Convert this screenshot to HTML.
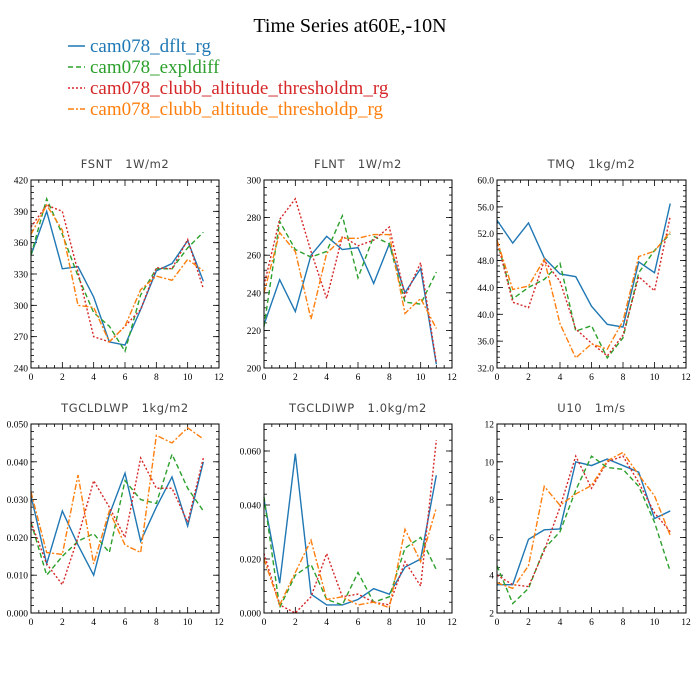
<!DOCTYPE html>
<html><head><meta charset="utf-8"><style>
body{margin:0;background:#fff;width:700px;height:700px;overflow:hidden}
svg{display:block}
text{white-space:pre}
</style></head><body>
<svg id="c" width="700" height="700" xmlns="http://www.w3.org/2000/svg">
<text x="350" y="32" text-anchor="middle" font-family="Liberation Serif, serif" font-size="20">Time Series at60E,-10N</text>
<g font-family="Liberation Serif, serif" font-size="19">
<g><line x1="68" y1="46" x2="85" y2="46" stroke="#1f77b4" stroke-width="1.5"/><text x="90" y="52" fill="#1f77b4">cam078_dflt_rg</text></g>
<g><line x1="68" y1="67" x2="85" y2="67" stroke="#2ca02c" stroke-width="1.5" stroke-dasharray="5,3"/><text x="90" y="73" fill="#2ca02c">cam078_expldiff</text></g>
<g><line x1="68" y1="88" x2="85" y2="88" stroke="#d62728" stroke-width="1.5" stroke-dasharray="2,2"/><text x="90" y="94" fill="#d62728">cam078_clubb_altitude_thresholdm_rg</text></g>
<g><line x1="68" y1="109" x2="85" y2="109" stroke="#ff7f0e" stroke-width="1.5" stroke-dasharray="6,2,2,2"/><text x="90" y="115" fill="#ff7f0e">cam078_clubb_altitude_thresholdp_rg</text></g>
</g>
</svg>
<script>
const months=[0,1,2,3,4,5,6,7,8,9,10,11];
const seriesNames=["dflt","expldiff","thresholdm","thresholdp"];
const fsntDflt=[348,390,335,337,308,265,262,296,333,340,362,323];
const fsntExpl=[348,402,368,328,293,280,256,310,335,335,355,370];
const fsntM=[375,396,390,332,270,265,280,296,336,335,363,316];
const fsntP=[368,396,372,300,298,265,280,315,328,324,344,333];
const flntDflt=[223,247,230,260,270,263,264,245,266,240,253,202];
const flntExpl=[222,278,263,259,262,281,248,270,266,235,234,251];
const flntM=[244,279,290,262,237,270,265,268,275,238,256,203];
const flntP=[240,272,262,226,261,269,269,271,271,229,237,221];
const tmqDflt=[54.0,50.6,53.6,48.4,46.0,45.6,41.2,38.5,38.1,47.8,46.2,56.5];
const tmqExpl=[51,42.3,44,45.2,47.6,37.5,38.3,33.5,36.5,46.2,49.5,52];
const tmqM=[51,41.8,41,48,44.9,37.8,35.7,33.8,36.9,45.6,43.5,54.6];
const tmqP=[51,43.7,44.2,48.2,38.6,33.5,35.6,34.8,39,48.6,49.4,52.3];
const lwpDflt=[.031,.013,.027,.018,.010,.026,.037,.019,.028,.036,.023,.040];
const lwpExpl=[.024,.010,.015,.019,.021,.016,.035,.030,.029,.042,.033,.027];
const lwpM=[.024,.013,.0075,.020,.035,.028,.020,.041,.033,.033,.024,.041];
const lwpP=[.032,.016,.0155,.0365,.013,.027,.018,.016,.047,.045,.049,.046];
const iwpDflt=[.042,.011,.059,.007,.003,.003,.005,.009,.007,.017,.020,.051];
const iwpExpl=[.043,.002,.014,.018,.005,.003,.015,.004,.006,.024,.028,.016];
const iwpM=[.022,.003,.000,.006,.022,.006,.007,.004,.003,.019,.010,.064];
const iwpP=[.020,.003,.015,.027,.005,.006,.003,.004,.002,.031,.019,.039];
const u10Dflt=[3.5,3.5,5.9,6.4,6.45,10,9.8,10.15,9.8,9.45,7.0,7.4];
const u10Expl=[4.5,2.5,3.3,5.4,6.3,8.5,10.3,9.7,9.6,8.7,6.8,4.2];
const u10M=[4.0,3.5,3.4,5.3,7.6,10.3,8.6,10,10.3,8.9,7.3,6.3];
const u10P=[3.6,3.3,4.5,8.7,7.7,8.3,8.75,10.05,10.5,9.3,8.2,6.1];
const xTicks=[0,2,4,6,8,10,12];
const fsntTicks=[240,270,300,330,360,390,420];
const flntTicks=[200,220,240,260,280,300];
const tmqTicks=[32,36,40,44,48,52,56,60];
const lwpTicks=[0,.01,.02,.03,.04,.05];
const iwpTicks=[0,.02,.04,.06];
const u10Ticks=[2,4,6,8,10,12];

const NS="http://www.w3.org/2000/svg";
const svg=document.getElementById('c');
const colors=["#1f77b4","#2ca02c","#d62728","#ff7f0e"];
const dashes=["","5,3","2,2","6,2,2,2"];
function mk(t,a,p){const e=document.createElementNS(NS,t);for(const k in a)e.setAttribute(k,a[k]);p.appendChild(e);return e;}
function panel(o){
  const g=mk('g',{},svg);
  
  
  const xs=v=>o.x0+(v-0)/12*(o.x1-o.x0);
  const ys=v=>o.y1-(v-o.ymin)/(o.ymax-o.ymin)*(o.y1-o.y0);
  const t=mk('text',{x:(o.x0+o.x1)/2,y:o.y0-12,'text-anchor':'middle','font-family':'DejaVu Sans, sans-serif','font-size':'11.5',fill:'#444','letter-spacing':'0.6'},g);
  t.textContent=o.title;
  
  
  for(let v=0;v<=12;v+=0.5){const X=xs(v);const L=(v%2===0)?6:3;
    mk('line',{x1:X,y1:o.y1,x2:X,y2:o.y1-L,stroke:'#000','stroke-width':'0.8'},g);
    mk('line',{x1:X,y1:o.y0,x2:X,y2:o.y0+L,stroke:'#000','stroke-width':'0.8'},g);}
  const st=(o.yt[1]-o.yt[0])/5;
  for(let v=o.ymin;v<=o.ymax+1e-9;v+=st){const Y=ys(v);
    mk('line',{x1:o.x0,y1:Y,x2:o.x0+3,y2:Y,stroke:'#000','stroke-width':'0.8'},g);
    mk('line',{x1:o.x1,y1:Y,x2:o.x1-3,y2:Y,stroke:'#000','stroke-width':'0.8'},g);}
  o.yt.forEach(v=>{const Y=ys(v);
    mk('line',{x1:o.x0,y1:Y,x2:o.x0+6,y2:Y,stroke:'#000','stroke-width':'0.8'},g);
    mk('line',{x1:o.x1,y1:Y,x2:o.x1-6,y2:Y,stroke:'#000','stroke-width':'0.8'},g);
    const l=mk('text',{x:o.x0-3,y:Y+3.5,'text-anchor':'end','font-family':'Liberation Serif, serif','font-size':'9.5'},g);
    l.textContent=o.fmt(v);
    
    });
  xTicks.forEach(v=>{const l=mk('text',{x:xs(v),y:o.y1+12,'text-anchor':'middle','font-family':'Liberation Serif, serif','font-size':'9.5'},g);
    l.textContent=v;
    
    });
  o.series.forEach((s,i)=>{
    const p=mk('polyline',{points:s.map((v,j)=>xs(months[j])+','+ys(v)).join(' '),fill:'none',stroke:colors[i],'stroke-width':'1.4','stroke-dasharray':dashes[i]},g);
    
    });
  const f=mk('rect',{x:o.x0,y:o.y0,width:o.x1-o.x0,height:o.y1-o.y0,fill:'none',stroke:'#000','stroke-width':'1'},g);
  
  
}
const cx=[[31,219],[264,452],[497,686]];
const ry=[[180,368],[424,613]];
panel({name:'fsnt',title:'FSNT   1W/m2',x0:cx[0][0],x1:cx[0][1],y0:ry[0][0],y1:ry[0][1],ymin:240,ymax:420,yt:fsntTicks,fmt:v=>v,series:[fsntDflt,fsntExpl,fsntM,fsntP]});
panel({name:'flnt',title:'FLNT   1W/m2',x0:cx[1][0],x1:cx[1][1],y0:ry[0][0],y1:ry[0][1],ymin:200,ymax:300,yt:flntTicks,fmt:v=>v,series:[flntDflt,flntExpl,flntM,flntP]});
panel({name:'tmq',title:'TMQ   1kg/m2',x0:cx[2][0],x1:cx[2][1],y0:ry[0][0],y1:ry[0][1],ymin:32,ymax:60,yt:tmqTicks,fmt:v=>v.toFixed(1),series:[tmqDflt,tmqExpl,tmqM,tmqP]});
panel({name:'tgcldlwp',title:'TGCLDLWP   1kg/m2',x0:cx[0][0],x1:cx[0][1],y0:ry[1][0],y1:ry[1][1],ymin:0,ymax:.05,yt:lwpTicks,fmt:v=>v.toFixed(3),series:[lwpDflt,lwpExpl,lwpM,lwpP]});
panel({name:'tgcldiwp',title:'TGCLDIWP   1.0kg/m2',x0:cx[1][0],x1:cx[1][1],y0:ry[1][0],y1:ry[1][1],ymin:0,ymax:.07,yt:iwpTicks,fmt:v=>v.toFixed(3),series:[iwpDflt,iwpExpl,iwpM,iwpP]});
panel({name:'u10',title:'U10   1m/s',x0:cx[2][0],x1:cx[2][1],y0:ry[1][0],y1:ry[1][1],ymin:2,ymax:12,yt:u10Ticks,fmt:v=>v,series:[u10Dflt,u10Expl,u10M,u10P]});
</script>
</body></html>
